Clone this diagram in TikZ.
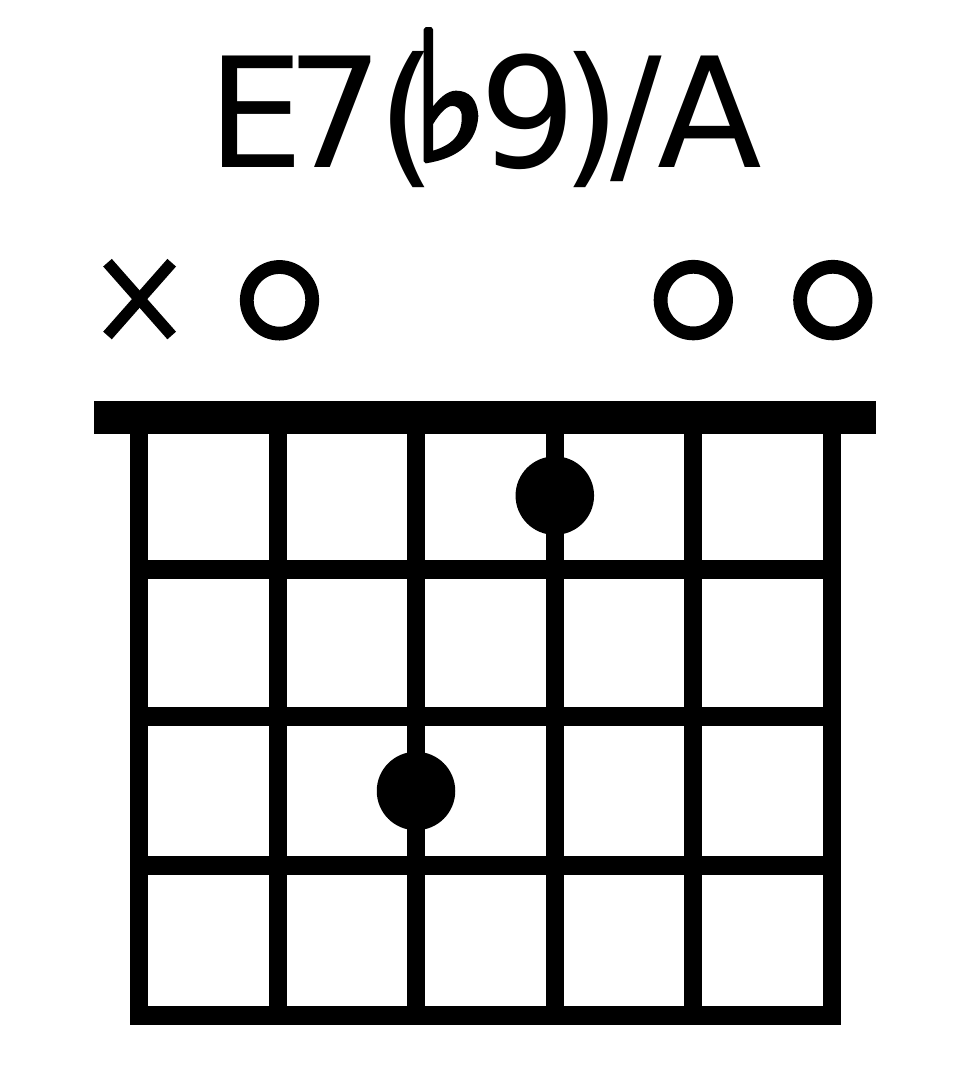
\documentclass[tikz,border=0pt]{standalone}
\usepackage{graphicx}
\usepackage{fontspec}
\setmainfont{DejaVu Sans}
\newfontfamily\flatfont[FakeBold=3]{DejaVu Sans}
\usetikzlibrary{shapes.geometric}
\newdimen\penx
% place glyph #1 so that its ink starts at #2 pt from the start of the line
\newcommand\gat[2]{\kern\dimexpr #2pt-\XeTeXglyphbounds1 \XeTeXcharglyph`#1 -\penx\relax#1\global\penx\dimexpr #2pt-\XeTeXglyphbounds1 \XeTeXcharglyph`#1 +\fontcharwd\font`#1\relax}
% same, for a glyph scaled horizontally by 0.92 and raised
\newcommand\gatnarrow[2]{\kern\dimexpr #2pt-0.92\XeTeXglyphbounds1 \XeTeXcharglyph`#1 -\penx\relax\raisebox{7pt}{\scalebox{0.92}[1]{#1}}\global\penx\dimexpr #2pt-0.92\XeTeXglyphbounds1 \XeTeXcharglyph`#1 +0.92\fontcharwd\font`#1\relax}
\tikzset{
  stringline/.style={line width=18.5pt, line cap=butt},
  fretline/.style={line width=19pt, line cap=butt},
  mutestroke/.style={line width=11.5pt, line cap=butt},
  fingerdot/.style={circle, fill=black, inner sep=0pt, minimum size=78.5pt},
  openmark/.style={ellipse, draw=black, line width=13.8pt, inner sep=0pt, minimum width=65.4pt, minimum height=66.6pt},
  titletext/.style={inner sep=0pt, anchor=base west, font=\fontsize{153}{180}\selectfont}
}
\begin{document}
\begin{tikzpicture}[x=1pt,y=-1pt]
\useasboundingbox (0,0) rectangle (976,1087);
\fill[white] (0,0) rectangle (976,1087);
% title
\node[titletext] (title) at (200,167) {\global\penx=0pt\gat{E}{22.2}\gat{7}{99}\gat{(}{190}{\flatfont\fontsize{178}{200}\selectfont\gatnarrow{♭}{226}}\gat{9}{288.5}\gat{)}{374}\gat{/}{410.5}\gat{A}{458}};
% markers above the nut
\coordinate (m1a) at (107.5,262.7);
\coordinate (m1b) at (171.7,335.5);
\coordinate (m1c) at (171.7,262.7);
\coordinate (m1d) at (107.5,335.5);
\draw[mutestroke] (m1a) -- (m1b);
\draw[mutestroke] (m1c) -- (m1d);
\node[openmark] (o2) at (279.5,300.3) {};
\node[openmark] (o5) at (693.3,300.1) {};
\node[openmark] (o6) at (832.8,300.1) {};
% nut
\fill[black] (94,401) rectangle (876,434);
% frets
\foreach \y in {569,716.5,865,1015.6} {
  \draw[fretline] (139,\y) -- (832,\y);
}
% strings
\foreach \x in {139,278,416.2,554.8,693.2,832} {
  \draw[stringline] (\x,434) -- (\x,1025);
}
% finger dots
\node[fingerdot] (d4) at (554.8,495.6) {};
\node[fingerdot] (d3) at (416,791) {};
\end{tikzpicture}
\end{document}
